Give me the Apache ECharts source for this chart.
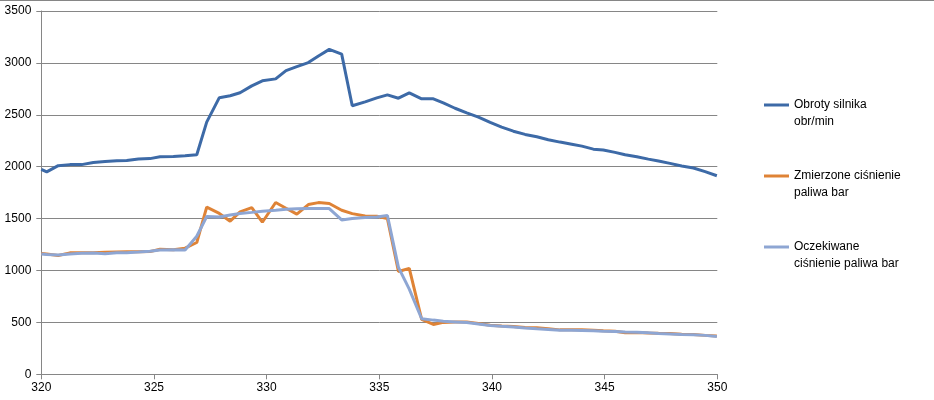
<!DOCTYPE html>
<html>
<head>
<meta charset="utf-8">
<script src="https://cdn.jsdelivr.net/npm/echarts@6/dist/echarts.min.js"></script>
<style>
html,body{margin:0;padding:0;background:#fff;}
#chart{width:934px;height:400px;}
</style>
</head>
<body>
<div id="chart"></div>
<script>
// time axis values (x)
const xValues = [320.0,320.24,320.75,321.27,321.79,322.31,322.83,323.35,323.79,324.31,324.82,325.27,325.86,326.38,326.9,327.34,327.9,328.38,328.82,329.34,329.81,330.4,330.86,331.34,331.85,332.3,332.78,333.33,333.8,334.37,334.89,335.36,335.85,336.33,336.88,337.4,337.84,338.36,338.88,339.4,339.92,340.43,340.95,341.47,341.99,342.5,343.02,343.54,343.99,344.5,344.94,345.46,345.91,346.43,346.94,347.39,347.9,348.42,348.94,349.46,349.98];
// Obroty silnika obr/min
const rpm = [1975,1950,2010,2020,2020,2040,2050,2058,2060,2075,2078,2095,2098,2105,2115,2430,2665,2683,2712,2779,2827,2846,2926,2964,3003,3067,3130,3085,2587,2625,2663,2692,2660,2712,2654,2654,2615,2563,2519,2477,2426,2381,2342,2311,2288,2260,2237,2217,2198,2169,2160,2138,2115,2096,2073,2054,2032,2006,1987,1952,1913];
// Zmierzone ciśnienie paliwa bar
const measured = [1165,1160,1145,1170,1170,1170,1175,1178,1180,1180,1182,1205,1200,1215,1270,1610,1550,1475,1565,1605,1465,1655,1600,1543,1635,1654,1646,1580,1548,1525,1522,1500,990,1020,530,480,500,505,505,490,472,465,460,452,448,440,428,430,428,425,420,415,400,402,398,395,392,385,383,375,368];
// Oczekiwane ciśnienie paliwa bar
const expected = [1160,1155,1150,1160,1165,1168,1162,1170,1172,1178,1185,1198,1200,1198,1330,1520,1515,1535,1550,1560,1570,1580,1590,1595,1597,1597,1597,1487,1500,1510,1515,1530,1030,820,535,522,512,505,498,485,470,462,455,445,438,432,425,425,423,420,415,412,408,405,400,392,388,383,380,375,365];
const seriesNames = ['Obroty silnika obr/min','Zmierzone ciśnienie paliwa bar','Oczekiwane ciśnienie paliwa bar'];
const legendLines = {
  'Obroty silnika obr/min':['Obroty silnika','obr/min'],
  'Zmierzone ciśnienie paliwa bar':['Zmierzone ciśnienie','paliwa bar'],
  'Oczekiwane ciśnienie paliwa bar':['Oczekiwane','ciśnienie paliwa bar']
};
const colors = ['#3D6AA7','#DF8336','#8EA6D3'];
const xTicks = {min:320,max:350,interval:5};
const yTicks = {min:0,max:3500,interval:500};

const pair = arr => arr.map((v,i)=>[xValues[i],v]);
const font = 'Liberation Sans, Arial, sans-serif';
const chart = echarts.init(document.getElementById('chart'));
chart.setOption({
  animation:false,
  backgroundColor:'#fff',
  color:colors,
  grid:{left:41.3,right:216.7,top:11,bottom:25.7,containLabel:false},
  xAxis:{type:'value',min:xTicks.min,max:xTicks.max,interval:xTicks.interval,
    axisLine:{show:true,onZero:false,lineStyle:{color:'#868686',width:1}},
    axisTick:{show:true,length:5,lineStyle:{color:'#868686'}},
    splitLine:{show:false},
    axisLabel:{color:'#000',fontFamily:font,fontSize:12,margin:7,formatter:v=>String(v)}},
  yAxis:{type:'value',min:yTicks.min,max:yTicks.max,interval:yTicks.interval,
    axisLine:{show:true,lineStyle:{color:'#868686',width:1}},
    axisTick:{show:true,length:5,lineStyle:{color:'#868686'}},
    splitLine:{show:true,lineStyle:{color:'#868686',width:1}},
    axisLabel:{color:'#000',fontFamily:font,fontSize:12,margin:10,formatter:v=>String(v)}},
  legend:{orient:'vertical',left:759,top:74.5,itemWidth:25,itemHeight:3,itemGap:20,
    icon:'rect',
    formatter:n=>'\n'+legendLines[n].join('\n'),
    textStyle:{color:'#000',fontFamily:font,fontSize:12,lineHeight:17},
    data:seriesNames},
  series:[
    {name:seriesNames[0],type:'line',data:pair(rpm),showSymbol:false,lineStyle:{width:3,color:colors[0]},itemStyle:{color:colors[0]}},
    {name:seriesNames[1],type:'line',data:pair(measured),showSymbol:false,lineStyle:{width:3,color:colors[1]},itemStyle:{color:colors[1]}},
    {name:seriesNames[2],type:'line',data:pair(expected),showSymbol:false,lineStyle:{width:3,color:colors[2]},itemStyle:{color:colors[2]}}
  ],
  graphic:[{type:'line',shape:{x1:0,y1:0.5,x2:934,y2:0.5},style:{stroke:'#868686',lineWidth:1}}]
});
</script>
</body>
</html>
